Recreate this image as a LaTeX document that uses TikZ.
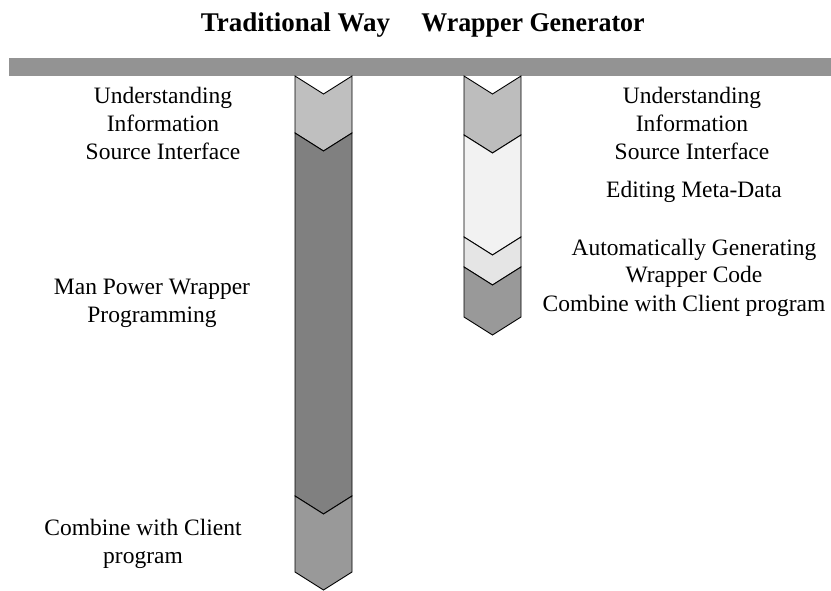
\documentclass[tikz,border=0pt]{standalone}
\usepackage{fontspec}
\setmainfont{Liberation Serif}
\begin{document}
\begin{tikzpicture}[x=1pt,y=-1pt,
  lbl/.style={align=center,inner sep=0pt,anchor=base,
    font=\fontsize{23.5}{28}\selectfont},
  ttl/.style={inner sep=0pt,anchor=base,
    font=\fontsize{27}{30}\selectfont\bfseries},
  seg/.style={draw=black,line width=0.9pt,line join=miter}]
\useasboundingbox (0,0) rectangle (831,591);

% titles
\node[ttl] (tw) at (295.5,32) {Traditional Way};
\node[ttl,xscale=0.96] (wg) at (533,32) {Wrapper Generator};

% horizontal bar
\fill[fill={rgb,255:red,147;green,147;blue,147}] (9,58) rectangle (831,76);

% chevron segment: left x, right x, top y, bottom y, colour
\newcommand\chevseg[5]{%
  \filldraw[seg,fill=#5] (#1,#3) -- ({(#1+#2)/2},#3+18) -- (#2,#3)
    -- (#2,#4) -- ({(#1+#2)/2},#4+18) -- (#1,#4) -- cycle;}

% traditional way column
\chevseg{295}{352}{76}{133}{black!25}
\chevseg{295}{352}{133}{496}{black!50}
\chevseg{295}{352}{496}{572}{black!40}

% wrapper generator column
\chevseg{464}{521}{76}{135}{black!26}
\chevseg{464}{521}{135}{237}{black!5}
\chevseg{464}{521}{237}{267}{black!10}
\chevseg{464}{521}{267}{317}{black!40}

% step labels (anchored at the baseline of the last line)
\node[lbl] (t1) at (163,160) {Understanding\\Information\\Source Interface};
\node[lbl] (t2) at (152,322) {Man Power Wrapper\\Programming};
\node[lbl] (t3) at (143,563) {Combine with Client\\program};

\node[lbl] (w1) at (692,160) {Understanding\\Information\\Source Interface};
\node[lbl] (w2) at (694,198) {Editing Meta-Data};
\node[lbl] (w3) at (694,283) {Automatically Generating\\Wrapper Code};
\node[lbl] (w4) at (684,312) {Combine with Client program};
\end{tikzpicture}
\end{document}
